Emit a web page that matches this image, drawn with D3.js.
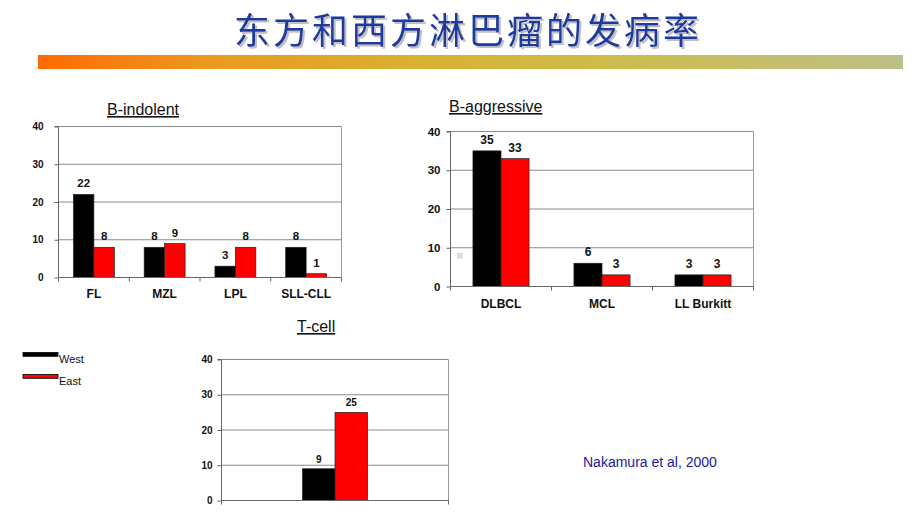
<!DOCTYPE html>
<html><head><meta charset="utf-8">
<script src="https://cdn.jsdelivr.net/npm/d3@7"></script>
<style>body{margin:0;background:#fff} svg{display:block}</style>
</head><body>
<script>
const titleText = "东方和西方淋巴瘤的发病率";
const seriesNames = ["West", "East"];
const seriesColors = ["#000000", "#ff0000"];
const yTickValues = [0, 10, 20, 30, 40];
const indolentTitle = "B-indolent";
const indolentCats = ["FL", "MZL", "LPL", "SLL-CLL"];
const indolentWest = [22, 8, 3, 8];
const indolentEast = [8, 9, 8, 1];
const aggressiveTitle = "B-aggressive";
const aggressiveCats = ["DLBCL", "MCL", "LL Burkitt"];
const aggressiveWest = [35, 6, 3];
const aggressiveEast = [33, 3, 3];
const tcellTitle = "T-cell";
const tcellCats = [""];
const tcellWest = [9];
const tcellEast = [25];
const citation = "Nakamura et al, 2000";

const FONT = "'Liberation Sans', Arial, sans-serif";
const W = 920, H = 518;
const svg = d3.select("body").append("svg").attr("width", W).attr("height", H);
const defs = svg.append("defs");

// Title with soft shadow
const sh = defs.append("filter").attr("id", "shadow").attr("x", "-5%").attr("y", "-20%").attr("width", "110%").attr("height", "150%");
sh.append("feDropShadow").attr("dx", 2).attr("dy", 2).attr("stdDeviation", 0.6)
  .attr("flood-color", "#b8b8c0").attr("flood-opacity", 0.9);
svg.append("text").attr("x", 468).attr("y", 44).attr("text-anchor", "middle")
  .attr("font-family", "'Noto Sans CJK SC', sans-serif").attr("font-size", 36)
  .attr("letter-spacing", 3).attr("fill", "#1c3a9c").attr("filter", "url(#shadow)").text(titleText);

// Gradient band
const grad = defs.append("linearGradient").attr("id", "band").attr("x1", "0%").attr("x2", "100%");
[["0%", "#ff6a00"], ["20%", "#eb9a1e"], ["45%", "#d8b232"], ["70%", "#cbbd52"], ["100%", "#bdbf88"]]
  .forEach(([o, c]) => grad.append("stop").attr("offset", o).attr("stop-color", c));
svg.append("rect").attr("x", 38).attr("y", 55).attr("width", 865).attr("height", 14).attr("fill", "url(#band)");

function panel(o) {
  const g = svg.append("g");
  const y = d3.scaleLinear().domain([0, 40]).range([o.bottom, o.top]);
  const x0 = d3.scaleBand().domain(o.cats).range([o.left, o.right]);
  const bw = x0.bandwidth();
  const x1 = d3.scaleBand().domain(seriesNames).range([0, bw]).paddingInner(0).paddingOuter(o.outer);
  const vals = [o.west, o.east];

  // gridlines
  g.selectAll(".grid").data(yTickValues.filter(v => v > 0)).join("line")
    .attr("x1", o.left).attr("x2", o.right).attr("y1", d => y(d)).attr("y2", d => y(d))
    .attr("stroke", "#8a8a8a").attr("stroke-width", 1);
  // right border
  g.append("line").attr("x1", o.right).attr("x2", o.right).attr("y1", o.top).attr("y2", o.bottom)
    .attr("stroke", "#9a9a9a");

  // bars
  seriesNames.forEach((s, si) => {
    g.selectAll(".bar" + si).data(o.cats).join("rect")
      .attr("x", c => x0(c) + x1(s)).attr("width", x1.bandwidth())
      .attr("y", (c, i) => y(vals[si][i])).attr("height", (c, i) => o.bottom - y(vals[si][i]))
      .attr("fill", seriesColors[si]).attr("stroke", "#222").attr("stroke-width", 0.7);
    g.selectAll(".val" + si).data(o.cats).join("text")
      .attr("x", c => x0(c) + x1(s) + x1.bandwidth() / 2)
      .attr("y", (c, i) => y(vals[si][i]) - o.valGap)
      .attr("text-anchor", "middle").attr("font-family", FONT).attr("font-weight", "bold")
      .attr("font-size", o.valFs).attr("fill", "#111").text((c, i) => vals[si][i]);
  });

  // y axis
  const ya = g.append("g").attr("transform", `translate(${o.left},0)`)
    .call(d3.axisLeft(y).tickValues(yTickValues).tickSize(4).tickPadding(o.tickPad));
  ya.select(".domain").attr("stroke", "#666").attr("d", `M-4,${o.top}H0V${o.bottom}`);
  ya.selectAll(".tick line").attr("stroke", "#666");
  ya.selectAll("text").attr("font-family", FONT).attr("font-weight", "bold")
    .attr("font-size", o.tickFs).attr("fill", "#111");

  // x axis
  const xa = g.append("g").attr("transform", `translate(0,${o.bottom})`)
    .call(d3.axisBottom(x0).tickSize(0).tickPadding(o.catPad));
  xa.select(".domain").attr("stroke", "#666").attr("d", `M${o.left},0H${o.right}`);
  xa.selectAll("text").attr("font-family", FONT).attr("font-weight", "bold")
    .attr("font-size", o.catFs).attr("fill", "#111");
  const bounds = o.cats.map(c => x0(c)).concat([o.right]);
  g.selectAll(".xt").data(bounds).join("line")
    .attr("x1", d => d).attr("x2", d => d).attr("y1", o.bottom).attr("y2", o.bottom + 4)
    .attr("stroke", "#666");

  // title
  g.append("text").attr("x", o.tx).attr("y", o.ty).attr("text-anchor", "start")
    .attr("font-family", FONT).attr("font-size", 16).attr("fill", "#111")
    .style("text-decoration", "underline").text(o.title);
}

panel({title: indolentTitle, tx: 107, ty: 115, cats: indolentCats, west: indolentWest, east: indolentEast,
  left: 58.5, right: 341.5, top: 126.5, bottom: 277.5, outer: 0.73,
  tickFs: 10, tickPad: 11, valFs: 11.5, valGap: 7, catFs: 12, catPad: 12});
panel({title: aggressiveTitle, tx: 449, ty: 112, cats: aggressiveCats, west: aggressiveWest, east: aggressiveEast,
  left: 450.5, right: 753.5, top: 131.5, bottom: 286.5, outer: 0.8,
  tickFs: 11.5, tickPad: 6, valFs: 12, valGap: 7, catFs: 12, catPad: 13});
panel({title: tcellTitle, tx: 297, ty: 332, cats: tcellCats, west: tcellWest, east: tcellEast,
  left: 221.5, right: 448.5, top: 359.5, bottom: 500.5, outer: 2.49,
  tickFs: 10, tickPad: 5, valFs: 10, valGap: 6, catFs: 12, catPad: 12});

// small grey mark in B-aggressive panel
svg.append("rect").attr("x", 457).attr("y", 253).attr("width", 5.5).attr("height", 5.5).attr("fill", "#dcdcdc");

// legend
const leg = svg.append("g");
seriesNames.forEach((s, i) => {
  leg.append("rect").attr("x", 23).attr("y", 352.5 + i * 22).attr("width", 35).attr("height", 3.8)
    .attr("fill", seriesColors[i]).attr("stroke", "#000").attr("stroke-width", 0.8);
  leg.append("text").attr("x", 59).attr("y", 362.5 + i * 22).attr("font-family", FONT)
    .attr("font-size", 11).attr("fill", "#111").text(s);
});

// citation
svg.append("text").attr("x", 583).attr("y", 467).attr("font-family", FONT).attr("font-size", 14)
  .attr("fill", "#1a1aa0").text(citation);
</script>
</body></html>
